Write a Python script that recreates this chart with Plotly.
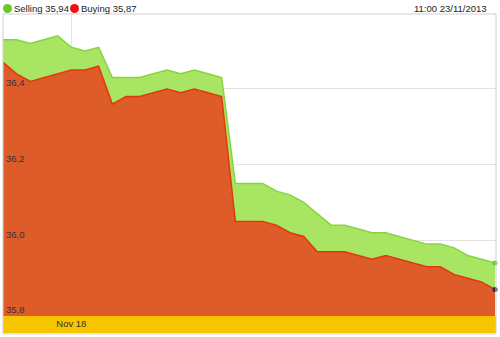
import pandas as pd
import plotly.graph_objects as go

# 4-hourly quotes, Nov 17 04:00 -> Nov 23 04:00, 2013
times = pd.date_range("2013-11-17 04:00", periods=37, freq="4h")

selling = [36.53, 36.53, 36.52, 36.53, 36.54, 36.51, 36.50, 36.51, 36.43, 36.43,
           36.43, 36.44, 36.45, 36.44, 36.45, 36.44, 36.43, 36.15, 36.15, 36.15,
           36.13, 36.12, 36.10, 36.07, 36.04, 36.04, 36.03, 36.02, 36.02, 36.01,
           36.00, 35.99, 35.99, 35.98, 35.96, 35.95, 35.94]
buying = [36.47, 36.44, 36.42, 36.43, 36.44, 36.45, 36.45, 36.46, 36.36, 36.38,
          36.38, 36.39, 36.40, 36.39, 36.40, 36.39, 36.38, 36.05, 36.05, 36.05,
          36.04, 36.02, 36.01, 35.97, 35.97, 35.97, 35.96, 35.95, 35.96, 35.95,
          35.94, 35.93, 35.93, 35.91, 35.90, 35.89, 35.87]

y_ticks = [35.8, 36.0, 36.2, 36.4]
x_ticks = ["2013-11-18"]
x_ticktext = ["Nov 18"]
stamp = "11:00 23/11/2013"

GREEN_FILL = "#a8e562"
GREEN_LINE = "#86d540"
RED_FILL = "#de5c2a"
RED_LINE = "#e2380e"
FONT = "Liberation Sans, Arial, sans-serif"
FS = 9.5


def fmt(v):
    return f"{v:.2f}".replace(".", ",")


fig = go.Figure()

# buying area (bottom layer, down to the axis floor)
fig.add_trace(go.Scatter(
    x=times, y=buying, mode="lines", fill="tozeroy",
    fillcolor=RED_FILL, line=dict(color=RED_LINE, width=1.5),
    showlegend=False, hoverinfo="skip"))

# selling area between the buying and selling lines
fig.add_trace(go.Scatter(
    x=times, y=selling, mode="lines", fill="tonexty",
    fillcolor=GREEN_FILL, line=dict(color=GREEN_LINE, width=1.5),
    showlegend=False, hoverinfo="skip"))

# latest-quote markers
fig.add_trace(go.Scatter(
    x=[times[-1]], y=[selling[-1]], mode="markers",
    marker=dict(color="#6cc628", size=5), cliponaxis=False,
    showlegend=False, hoverinfo="skip"))
fig.add_trace(go.Scatter(
    x=[times[-1]], y=[buying[-1]], mode="markers",
    marker=dict(color="#1c2a55", size=5), cliponaxis=False,
    showlegend=False, hoverinfo="skip"))

PLOT_H = 319            # pixel height between top and bottom margins
band_top = 17 / PLOT_H  # date strip under the value area

fig.update_layout(
    width=500, height=337,
    margin=dict(l=3, r=4, t=14, b=4),
    paper_bgcolor="white", plot_bgcolor="white",
    separators=",.",
    font=dict(family=FONT, size=FS, color="#333333"),
    xaxis=dict(
        type="date",
        range=[times[0], times[-1] + pd.Timedelta(minutes=17)],
        tickvals=x_ticks, ticktext=x_ticktext,
        showgrid=True, gridcolor="#e2e2e2", gridwidth=1,
        showline=False, zeroline=False, ticks="",
        tickfont=dict(size=FS, color="#333333"),
        automargin=False,
    ),
    yaxis=dict(
        domain=[band_top, 1],
        range=[35.8, 36.598],
        tickvals=y_ticks, tickformat=".1f",
        ticklabelposition="inside", ticklabelshift=-6,
        ticklabeloverflow="allow",
        showgrid=True, gridcolor="#e2e2e2", gridwidth=1,
        showline=False, zeroline=False, ticks="",
        tickfont=dict(size=FS, color="#333333"),
        automargin=False,
    ),
    shapes=[
        # date strip under the plot
        dict(type="rect", xref="paper", yref="paper", x0=0, x1=1, y0=0, y1=band_top,
             fillcolor="#f6c500", line=dict(width=0), layer="below"),
        # outer frame
        dict(type="rect", xref="paper", yref="paper", x0=0, x1=1, y0=-0.003, y1=1,
             fillcolor="rgba(0,0,0,0)", line=dict(color="#cfcfcf", width=1), layer="above"),
        # legend dots
        dict(type="circle", xref="paper", yref="paper", xsizemode="pixel", ysizemode="pixel",
             xanchor=0, yanchor=1, x0=0, x1=9, y0=1, y1=10,
             fillcolor="#6cc628", line=dict(width=0)),
        dict(type="circle", xref="paper", yref="paper", xsizemode="pixel", ysizemode="pixel",
             xanchor=0, yanchor=1, x0=67, x1=76, y0=1, y1=10,
             fillcolor="#ee1111", line=dict(width=0)),
    ],
    annotations=[
        dict(xref="paper", yref="paper", x=0, y=1, xshift=9, yshift=6,
             xanchor="left", yanchor="middle", showarrow=False,
             text=f"Selling {fmt(selling[-1])}", font=dict(size=FS, color="#222222")),
        dict(xref="paper", yref="paper", x=0, y=1, xshift=76, yshift=6,
             xanchor="left", yanchor="middle", showarrow=False,
             text=f"Buying {fmt(buying[-1])}", font=dict(size=FS, color="#222222")),
        dict(xref="paper", yref="paper", x=1, y=1, xshift=-7, yshift=6,
             xanchor="right", yanchor="middle", showarrow=False,
             text=stamp, font=dict(size=FS, color="#222222")),
    ],
)

fig.write_html("out.html")
